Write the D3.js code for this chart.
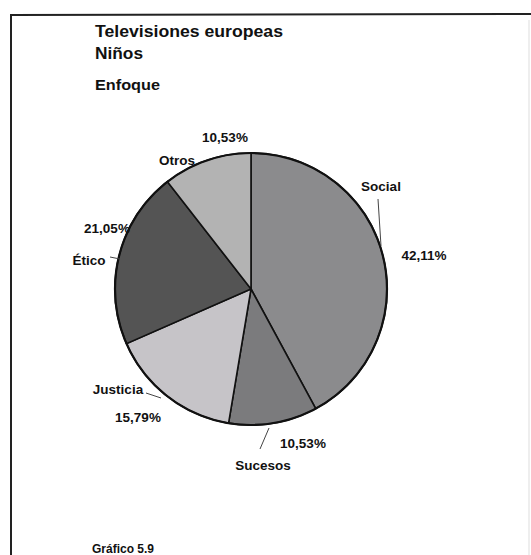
<!DOCTYPE html>
<html><head><meta charset="utf-8">
<script src="https://cdn.jsdelivr.net/npm/d3@7"></script>
<style>body{margin:0;background:#fff}svg{display:block}text{font-family:"Liberation Sans",Arial,sans-serif;font-weight:bold;fill:#111}</style>
</head><body>
<svg id="c" width="531" height="555"></svg>
<script>
const categories = ["Social","Sucesos","Justicia","Ético","Otros"];
const values = [42.11,10.53,15.79,21.05,10.53];
const valueLabels = ["42,11%","10,53%","15,79%","21,05%","10,53%"];
const colors = ["#8b8b8d","#7b7b7d","#c6c4c8","#545454","#b3b3b3"];
const titles = ["Televisiones europeas","Niños","Enfoque"];
const caption = "Gráfico 5.9";

const svg = d3.select("#c");
// frame
svg.append("line").attr("x1",11).attr("y1",15).attr("x2",531).attr("y2",14).attr("stroke","#222").attr("stroke-width",2);
svg.append("line").attr("x1",11).attr("y1",14).attr("x2",11).attr("y2",555).attr("stroke","#222").attr("stroke-width",2);
svg.append("line").attr("x1",529).attr("y1",20).attr("x2",529).attr("y2",555).attr("stroke","#ddd").attr("stroke-width",1);

// titles
svg.append("text").attr("x",95).attr("y",37).style("font-size","16px").attr("textLength",188).attr("lengthAdjust","spacingAndGlyphs").text(titles[0]);
svg.append("text").attr("x",95).attr("y",59).style("font-size","16px").attr("textLength",48).attr("lengthAdjust","spacingAndGlyphs").text(titles[1]);
svg.append("text").attr("x",95).attr("y",90).style("font-size","14.5px").attr("textLength",65).attr("lengthAdjust","spacingAndGlyphs").text(titles[2]);
svg.append("text").attr("x",92).attr("y",553).style("font-size","12px").text(caption);

const cx=251, cy=289, r=136;
const g = svg.append("g").attr("transform",`translate(${cx},${cy})`);
const pie = d3.pie().sort(null).value(d=>d.v);
const data = categories.map((c,i)=>({c,v:values[i],l:valueLabels[i],col:colors[i]}));
const arcs = pie(data);
const arc = d3.arc().innerRadius(0).outerRadius(r);
g.selectAll("path.s").data(arcs).join("path").attr("class","s")
  .attr("d",arc).attr("fill",d=>d.data.col).attr("stroke","#111").attr("stroke-width",1.6);
g.append("circle").attr("r",r).attr("fill","none").attr("stroke","#111").attr("stroke-width",2.2);

const lab = {
  "Social":  {name:[381,191], val:[424,260], line:[[378,199],[381,246]]},
  "Sucesos": {name:[263,470], val:[303,448], line:[[269,428],[260,449]]},
  "Justicia":{name:[118,394], val:[138,422], line:[[146,393],[161,398]]},
  "Ético":   {name:[89,265],  val:[107,233], line:[[110,257],[120,259]]},
  "Otros":   {name:[177,165], val:[225,142], line:null}
};
arcs.forEach(a=>{
  const L = lab[a.data.c];
  svg.append("text").attr("x",L.name[0]).attr("y",L.name[1]).attr("text-anchor","middle").style("font-size","13.5px").text(a.data.c);
  svg.append("text").attr("x",L.val[0]).attr("y",L.val[1]).attr("text-anchor","middle").style("font-size","13.5px").text(a.data.l);
  if(L.line) svg.append("line").attr("x1",L.line[0][0]).attr("y1",L.line[0][1]).attr("x2",L.line[1][0]).attr("y2",L.line[1][1]).attr("stroke","#444").attr("stroke-width",1);
});
</script>
</body></html>
